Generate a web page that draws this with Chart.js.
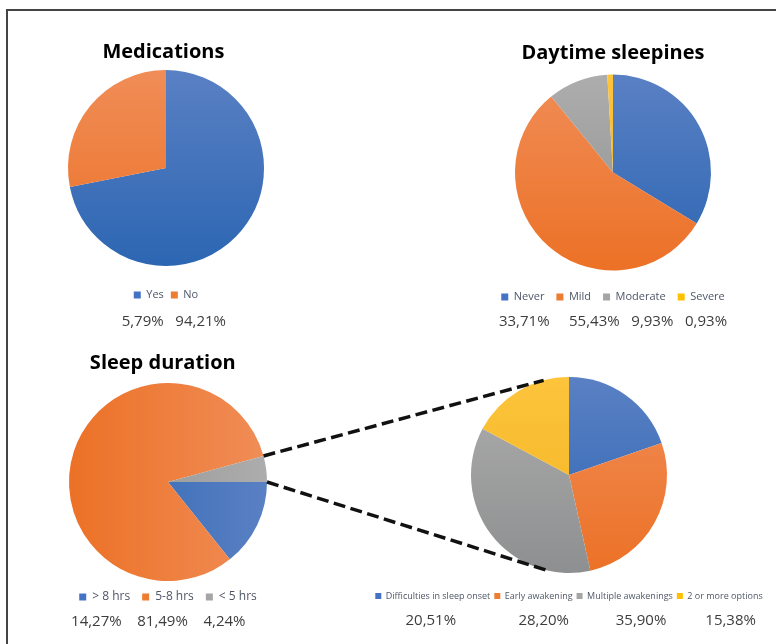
<!DOCTYPE html>
<html>
<head>
<meta charset="utf-8">
<script src="https://cdn.jsdelivr.net/npm/chart.js@4"></script>
<style>
  body { margin: 0; background: #fff; }
  #page { position: relative; width: 776px; height: 644px; overflow: hidden; }
  #frame { position: absolute; left: 6px; top: 9px; right: -10px; bottom: -10px; border-top: 2px solid #444; border-left: 2px solid #444; }
  .box { position: absolute; }
  canvas { display: block; }
  #links { position: absolute; left: 0; top: 0; pointer-events: none; }
</style>
</head>
<body>
<div id="page">
  <div id="frame"></div>
  <div class="box" style="left:16px;top:20px"><canvas id="medications" width="300" height="311"></canvas></div>
  <div class="box" style="left:463px;top:20px"><canvas id="sleepiness" width="300" height="311"></canvas></div>
  <div class="box" style="left:18px;top:330px"><canvas id="duration" width="300" height="301"></canvas></div>
  <div class="box" style="left:362px;top:355px"><canvas id="problems" width="414" height="275"></canvas></div>
  <canvas id="links" width="776" height="644"></canvas>
</div>
<script>
// data
var medLabels = ['Yes', 'No'];
var medValues = [71.9, 28.1];
var medPercents = ['5,79%', '94,21%'];

var sleepinessLabels = ['Never', 'Mild', 'Moderate', 'Severe'];
var sleepinessValues = [33.71, 55.43, 9.93, 0.93];
var sleepinessPercents = ['33,71%', '55,43%', '9,93%', '0,93%'];

var durationLabels = ['> 8 hrs', '5-8 hrs', '< 5 hrs'];
var durationValues = [14.27, 81.49, 4.24];
var durationPercents = ['14,27%', '81,49%', '4,24%'];

var problemLabels = ['Difficulties in sleep onset', 'Early awakening', 'Multiple awakenings', '2 or more options'];
var problemValues = [19.7, 26.8, 36.3, 17.2];
var problemPercents = ['20,51%', '28,20%', '35,90%', '15,38%'];

Chart.defaults.font.family = "'Open Sans', sans-serif";

// light / dark end of each slice gradient
var palette = {
    blue: ['#5a80c4', '#2c66b2'],
    orange: ['#f08d57', '#ec7126'],
    grey: ['#adadad', '#8e8f90'],
    yellow: ['#fdc43c', '#f0b21f']
};
var flat = { blue: '#4472c4', orange: '#ed7d31', grey: '#a5a5a5', yellow: '#ffc000' };

function shade(names, radius, horizontal) {
    return function (ctx) {
        var c = palette[names[ctx.dataIndex]];
        var area = ctx.chart.chartArea;
        if (!area) return c[1];
        var cx = (area.left + area.right) / 2, cy = (area.top + area.bottom) / 2;
        var g;
        if (horizontal) {
            g = ctx.chart.ctx.createLinearGradient(cx - radius, 0, cx + radius, 0);
            g.addColorStop(0, c[1]);
            g.addColorStop(1, c[0]);
        } else {
            g = ctx.chart.ctx.createLinearGradient(0, cy - radius, 0, cy + radius);
            g.addColorStop(0, c[0]);
            g.addColorStop(1, c[1]);
        }
        return g;
    };
}

function flatLabels(names) {
    return function (chart) {
        var items = Chart.overrides.pie.plugins.legend.labels.generateLabels(chart);
        items.forEach(function (it, i) {
            it.fillStyle = flat[names[i]];
            it.strokeStyle = flat[names[i]];
            it.lineWidth = 0;
        });
        return items;
    };
}

function spaces(n) { return new Array(n + 1).join(' '); }

function percentRow(values, gaps, lead, trail) {
    var s = spaces(lead || 0);
    values.forEach(function (v, i) { s += v + (i < gaps.length ? spaces(gaps[i]) : ''); });
    return s + spaces(trail || 0);
}

function makePie(id, o) {
    return new Chart(document.getElementById(id), {
        type: 'pie',
        data: {
            labels: o.labels,
            datasets: [{
                data: o.values,
                backgroundColor: shade(o.colors, o.radius, o.horizontal),
                borderWidth: 0,
                hoverOffset: 0,
                radius: o.radius,
                rotation: o.rotation || 0
            }]
        },
        options: {
            responsive: false,
            animation: false,
            events: [],
            layout: { padding: { top: o.padTop || 0 } },
            plugins: {
                title: {
                    display: !!o.title,
                    text: o.title || '',
                    color: '#000',
                    font: { size: 20, weight: 'bold' },
                    padding: o.titlePad || 0
                },
                legend: {
                    position: 'bottom',
                    labels: {
                        boxWidth: o.box,
                        boxHeight: o.box,
                        padding: o.gap,
                        color: '#4f5667',
                        font: { size: o.legendSize },
                        generateLabels: flatLabels(o.colors)
                    }
                },
                subtitle: {
                    display: true,
                    position: 'bottom',
                    text: o.percentText,
                    color: '#3d3d3d',
                    font: { size: 15 },
                    padding: { top: o.pctPad, bottom: 0 }
                },
                tooltip: { enabled: false }
            }
        }
    });
}

var medChart = makePie('medications', {
    title: 'Medications ', titlePad: { top: 20, bottom: -10.5 },
    labels: medLabels, values: medValues, colors: ['blue', 'orange'],
    radius: 98, box: 7, gap: 7, legendSize: 11,
    percentText: percentRow(medPercents, [3], 4), pctPad: 2.5
});

var sleepinessChart = makePie('sleepiness', {
    title: 'Daytime sleepines', titlePad: { top: 21, bottom: 0.5 },
    labels: sleepinessLabels, values: sleepinessValues, colors: ['blue', 'orange', 'grey', 'yellow'],
    radius: 98, box: 7, gap: 12, legendSize: 11,
    percentText: percentRow(sleepinessPercents, [5, 3, 3]), pctPad: 0.5
});

var durationChart = makePie('duration', {
    title: 'Sleep duration  ', titlePad: { top: 21, bottom: 10 },
    labels: durationLabels, values: durationValues, colors: ['blue', 'orange', 'grey'],
    radius: 99, rotation: 90, horizontal: true, box: 7, gap: 12, legendSize: 12,
    percentText: percentRow(durationPercents, [4, 4], 0, 5), pctPad: 0
});

var problemChart = makePie('problems', {
    labels: problemLabels, values: problemValues, colors: ['blue', 'orange', 'grey', 'yellow'],
    radius: 98, padTop: 7.5, box: 6, gap: 4, legendSize: 9,
    percentText: percentRow(problemPercents, [16, 12, 10], 6), pctPad: 1.5
});

// dashed connectors from the "< 5 hrs" slice to the breakdown pie
function drawLinks(from, to) {
    var cv = document.getElementById('links');
    var ctx = cv.getContext('2d');
    var page = cv.getBoundingClientRect();
    var ra = from.canvas.getBoundingClientRect();
    var rb = to.canvas.getBoundingClientRect();
    var slice = from.getDatasetMeta(0).data[2];
    var pie = to.getDatasetMeta(0).data[0];
    var starts = [slice.startAngle, slice.endAngle];
    var ends = [-105 * Math.PI / 180, 102 * Math.PI / 180];
    ctx.strokeStyle = '#111';
    ctx.lineWidth = 3.5;
    ctx.setLineDash([12, 5.5]);
    for (var i = 0; i < 2; i++) {
        ctx.beginPath();
        ctx.moveTo(ra.left - page.left + slice.x + slice.outerRadius * Math.cos(starts[i]),
                   ra.top - page.top + slice.y + slice.outerRadius * Math.sin(starts[i]));
        ctx.lineTo(rb.left - page.left + pie.x + pie.outerRadius * Math.cos(ends[i]),
                   rb.top - page.top + pie.y + pie.outerRadius * Math.sin(ends[i]));
        ctx.stroke();
    }
}

drawLinks(durationChart, problemChart);
</script>
</body>
</html>
